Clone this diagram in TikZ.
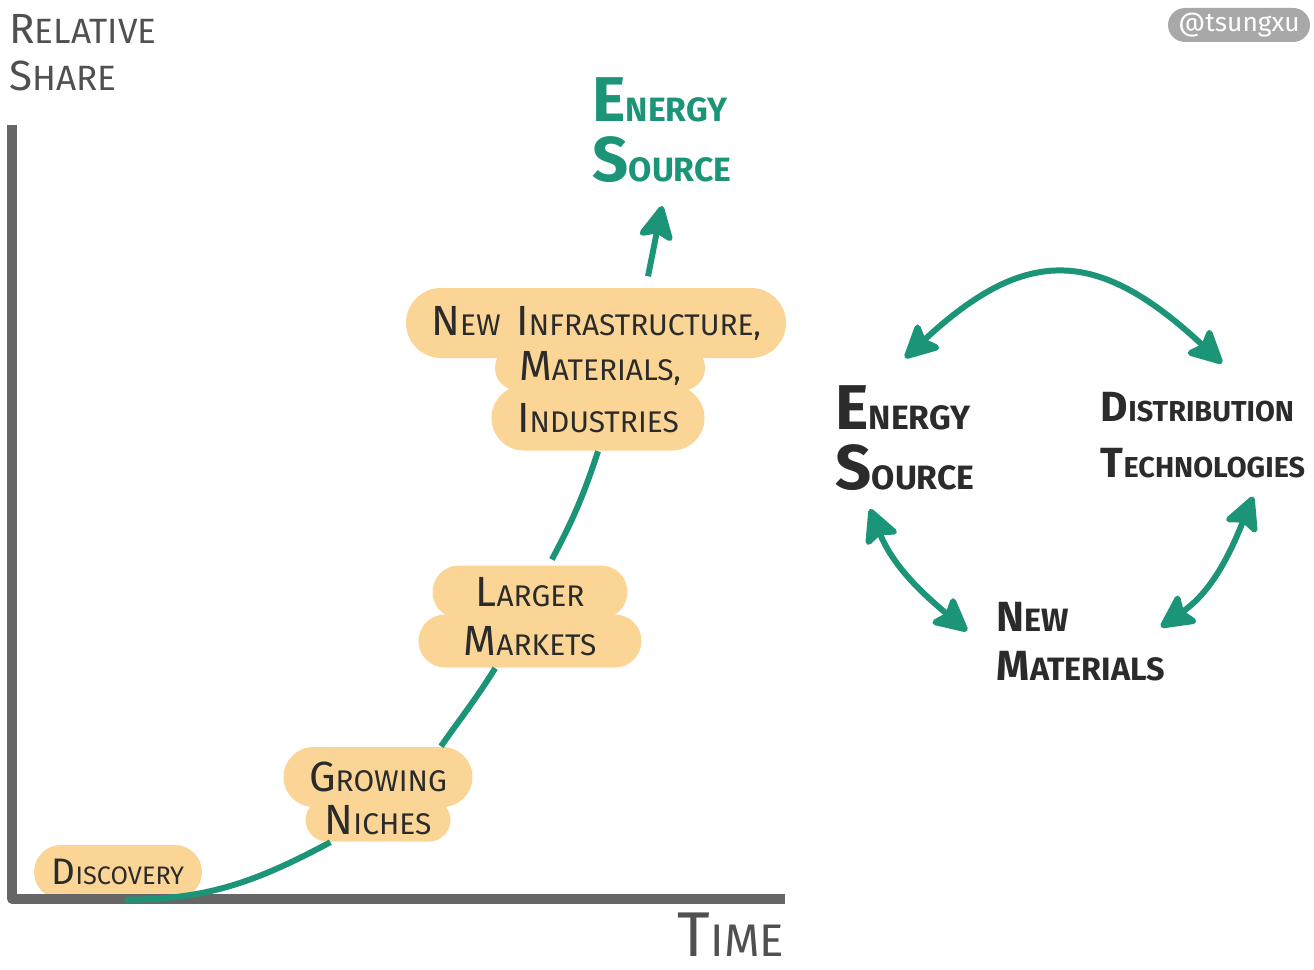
\documentclass[tikz,border=0pt]{standalone}
\usepackage{fontspec}
\setmainfont{Fira Sans}
\usepackage{tikz}
\usetikzlibrary{arrows.meta}
\usetikzlibrary{shapes.misc}
\definecolor{cGreen}{HTML}{1B9478}
\definecolor{cBlob}{HTML}{FBD596}
\definecolor{cAxis}{HTML}{666666}
\definecolor{cInk}{HTML}{2B2B2B}
\definecolor{cGrey}{HTML}{505050}
\definecolor{cTag}{HTML}{A8A8A8}
\newcommand{\capsmall}[2]{{\fontsize{10.5}{10.5}\selectfont #1}#2}
\newcommand{\capword}[2]{{\fontsize{12}{12}\selectfont #1}#2}
\newcommand{\capbig}[2]{{\fontsize{18}{18}\selectfont #1}#2}
\tikzset{
    blob/.style   = {rounded rectangle,fill=cBlob,text=cInk,inner sep=0pt,font=\fontsize{8.5}{10}\selectfont},
    label/.style  = {align=left,text=cInk,inner sep=0pt,font=\fontsize{10}{17}\selectfont},
    heavy/.style  = {label,font=\fontsize{9.6}{17}\selectfont\bfseries},
    curve/.style  = {cGreen,line width=1.7pt},
    both/.style   = {curve,{Stealth[length=11pt,width=11pt,inset=2pt,round]}-{Stealth[length=11pt,width=11pt,inset=2pt,round]}},
    single/.style = {curve,-{Stealth[length=11pt,width=11pt,inset=2pt,round]}}
}
\begin{document}
\begin{tikzpicture}
                    \useasboundingbox (0,0) rectangle (13.14,9.69);
                    \node at (1.18,0.97)  [blob,minimum width=1.68cm,minimum height=0.54cm,font=\fontsize{7.2}{9}\selectfont] (nDiscovery) {\capsmall{D}{ISCOVERY}};
                    \node at (nDiscovery) [xshift= 2.60cm,yshift= 0.95cm,blob,minimum width=1.89cm,minimum height=0.60cm] (nGrowing) {\capword{G}{ROWING}};
                    \node at (nGrowing)   [xshift=    0cm,yshift=-0.43cm,blob,minimum width=1.45cm,minimum height=0.43cm] (nNiches)  {\capword{N}{ICHES}};
                    \node at (nGrowing)   [xshift= 1.52cm,yshift= 1.85cm,blob,minimum width=1.95cm,minimum height=0.53cm] (nLarger)  {\capword{L}{ARGER}};
                    \node at (nLarger)    [xshift=    0cm,yshift=-0.49cm,blob,minimum width=2.23cm,minimum height=0.53cm] (nMarkets) {\capword{M}{ARKETS}};
                    \node at (nLarger)    [xshift= 0.66cm,yshift= 2.69cm,blob,minimum width=3.80cm,minimum height=0.70cm] (nInfra)   {\capword{N}{EW}\ \ \capword{I}{NFRASTRUCTURE,}};
                    \node at (nInfra)     [xshift= 0.04cm,yshift=-0.45cm,blob,minimum width=2.10cm,minimum height=0.45cm] (nMatls)   {\capword{M}{ATERIALS,}};
                    \node at (nMatls)     [xshift=-0.02cm,yshift=-0.50cm,blob,minimum width=2.13cm,minimum height=0.65cm] (nInd)     {\capword{I}{NDUSTRIES}};
                    \node at (nInfra)     [xshift= 0.66cm,yshift= 1.93cm,heavy,text=cGreen] (nTarget) {\capbig{E}{NERGY}\\\capbig{S}{OURCE}};
                    \node at (nInfra)     [xshift= 3.09cm,yshift=-1.15cm,heavy] (nEnergy) {\capbig{E}{NERGY}\\\capbig{S}{OURCE}};
                    \node at (nEnergy)    [xshift= 2.98cm,yshift= 0.03cm,heavy,font=\fontsize{8.2}{16}\selectfont\bfseries] (nDist) {\capword{D}{ISTRIBUTION}\\\capword{T}{ECHNOLOGIES}};
                    \node at (nEnergy)    [xshift= 1.76cm,yshift=-2.04cm,heavy,font=\fontsize{9.2}{14}\selectfont\bfseries] (nMat)  {\capword{N}{EW}\\\capword{M}{ATERIALS}};
                    \node at (0.83,9.16)  [label,text=cGrey,font=\fontsize{10}{13.5}\selectfont] (nShare) {\capword{R}{ELATIVE}\\\capword{S}{HARE}};
                    \node at (7.31,0.34)  [label,text=cGrey,font=\fontsize{13}{14}\selectfont] (nTime) {\capbig{T}{IME}};
                    \node at (12.39,9.44) [rounded rectangle,fill=cTag,text=white,minimum width=1.42cm,minimum height=0.34cm,inner sep=0pt,font=\fontsize{7.5}{9}\selectfont] (nTag) {@tsungxu};
                    % axes
                    \coordinate (nYTop)   at (0.12,8.44);
                    \coordinate (nOrigin) at (0.12,0.70);
                    \coordinate (nXEnd)   at (7.85,0.70);
                    \draw[cAxis,line width=2.6pt,line join=round] (nYTop) -- (nOrigin) -- (nXEnd);
                    % growth curve
                    \draw[curve] ([xshift=0.07cm]nDiscovery.south) to[out=0,in=208]  (nNiches.-155);
                    \draw[curve] (nGrowing.26)                     to[out=55,in=238] (nMarkets.-142);
                    \draw[curve,shorten <=0.06cm] (nLarger.55)     to[out=62,in=252] (nInd.south);
                    \draw[single] ([xshift=0.52cm,yshift=0.11cm]nInfra.north) to ([yshift=-0.23cm]nTarget.south);
                    % cycle
                    \draw[both] ([yshift=0.27cm]nEnergy.north)              to[out=43,in=137,looseness=1.35] ([xshift=0.19cm,yshift=0.28cm]nDist.north);
                    \draw[both] ([xshift=-0.35cm,yshift=-0.18cm]nEnergy.south) to[out=-68,in=140]           ([xshift=-0.29cm,yshift=0.11cm]nMat.west);
                    \draw[both] ([xshift=0.50cm,yshift=-0.18cm]nDist.south)    to[out=-112,in=35]           ([xshift=-0.05cm,yshift=0.15cm]nMat.east);
\end{tikzpicture}
\end{document}
